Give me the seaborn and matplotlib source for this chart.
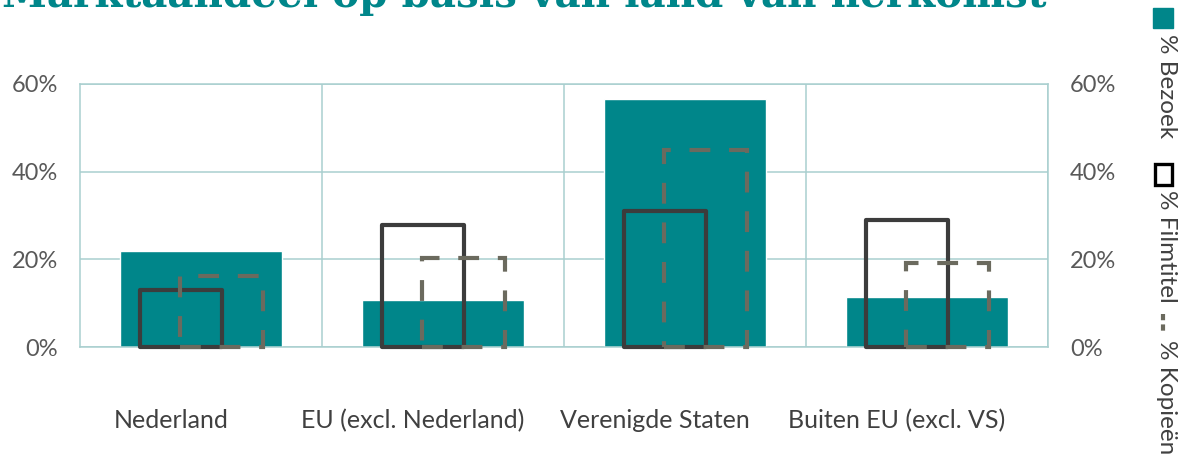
import numpy as np
import pandas as pd
import matplotlib
matplotlib.use("Agg")
import matplotlib.pyplot as plt
from matplotlib.patches import Rectangle
from matplotlib.lines import Line2D
from matplotlib.ticker import PercentFormatter
from matplotlib.transforms import ScaledTranslation
import seaborn as sns

# data
categories = ["Nederland", "EU (excl. Nederland)", "Verenigde Staten", "Buiten EU (excl. VS)"]
bezoek = [22, 10.7, 56.6, 11.4]
filmtitel = [13, 27.8, 31, 29]
kopieen = [16.2, 20.3, 45, 19.2]
series_names = ["% Bezoek", "% Filmtitel", "% Kopieën"]
title = "Marktaandeel op basis van land van herkomst"

teal = "#00868a"
grid_col = "#a9cfcf"
dark = "#3c3c3c"
grey = "#6b6a5e"
txt = "#595959"

sns.set_style("white")
plt.rcParams["font.family"] = ["Lato", "DejaVu Sans"]

fig = plt.figure(figsize=(11.86, 4.57), dpi=100)
ax = fig.add_axes([80 / 1186, 1 - 347 / 457, 968 / 1186, 263 / 457])

df = pd.DataFrame({"land": categories, "bezoek": bezoek,
                   "film": filmtitel, "kopie": kopieen})

sns.barplot(data=df, x="land", y="bezoek", color=teal, saturation=1,
            width=0.67, ax=ax, zorder=2)
n0 = len(ax.patches)
sns.barplot(data=df, x="land", y="film", color=dark, fill=False,
            width=0.34, linewidth=3, ax=ax, zorder=3)
n1 = len(ax.patches)
sns.barplot(data=df, x="land", y="kopie", color=grey, fill=False,
            width=0.34, linewidth=3, linestyle=(0, (5, 4.5)), ax=ax, zorder=4)

for p in ax.patches[n0:n1]:
    p.set_x(p.get_x() - 0.083)
    p.set_clip_on(False)
    p.set_joinstyle("round")
for p in ax.patches[n1:]:
    p.set_x(p.get_x() + 0.085)
    p.set_clip_on(False)

ax.set_xlim(-0.5, 3.5)
ax.set_ylim(0, 60)
ax.set_yticks([0, 20, 40, 60])
ax.yaxis.set_major_formatter(PercentFormatter(xmax=100, decimals=0))
ax.set_xticks(np.arange(4) + 0.5, minor=True)
ax.grid(True, axis="y", color=grid_col, lw=1.1, zorder=0)
ax.grid(True, axis="x", which="minor", color=grid_col, lw=1.1, zorder=0)
ax.grid(False, axis="x", which="major")
ax.set_axisbelow(True)
for s in ax.spines.values():
    s.set_visible(True)
    s.set_color(grid_col)
    s.set_linewidth(1.1)

ax.set_xlabel("")
ax.set_ylabel("")
ax.tick_params(axis="y", length=0, pad=16, labelsize=17, labelcolor=txt,
               labelright=True)
ax.tick_params(axis="x", which="both", length=0, pad=45, labelsize=18,
               labelcolor="#404040")
shift = ScaledTranslation(-0.30, 0, fig.dpi_scale_trans)
for lab in ax.get_xticklabels():
    lab.set_transform(lab.get_transform() + shift)

# title, cut off at the top edge as in the reference
fig.text(0.002, 1 - 7 / 457, title, ha="left", va="baseline",
         fontsize=29.2, fontweight="bold", color=teal, family="DejaVu Serif")

# rotated legend on the right
fx = lambda px: px / 1186
fy = lambda py: 1 - py / 457
fig.add_artist(Rectangle((fx(1153), fy(28)), fx(20), 20 / 457,
                         transform=fig.transFigure, color=teal))
fig.text(fx(1166), fy(34), series_names[0], rotation=270, ha="center",
         va="top", fontsize=17.5, color="#404040")
fig.add_artist(Rectangle((fx(1155), fy(185)), fx(17), 21 / 457,
                         transform=fig.transFigure, fill=False,
                         edgecolor="black", lw=2.4))
fig.text(fx(1166), fy(190), series_names[1], rotation=270, ha="center",
         va="top", fontsize=17.5, color="#404040")
fig.add_artist(Line2D([fx(1163), fx(1163)], [fy(314), fy(334)],
                      transform=fig.transFigure, color=grey, lw=3,
                      linestyle=(0, (1.5, 1))))
fig.text(fx(1166), fy(340), series_names[2], rotation=270, ha="center",
         va="top", fontsize=17.5, color="#404040")

fig.savefig("out.png", dpi=100)
